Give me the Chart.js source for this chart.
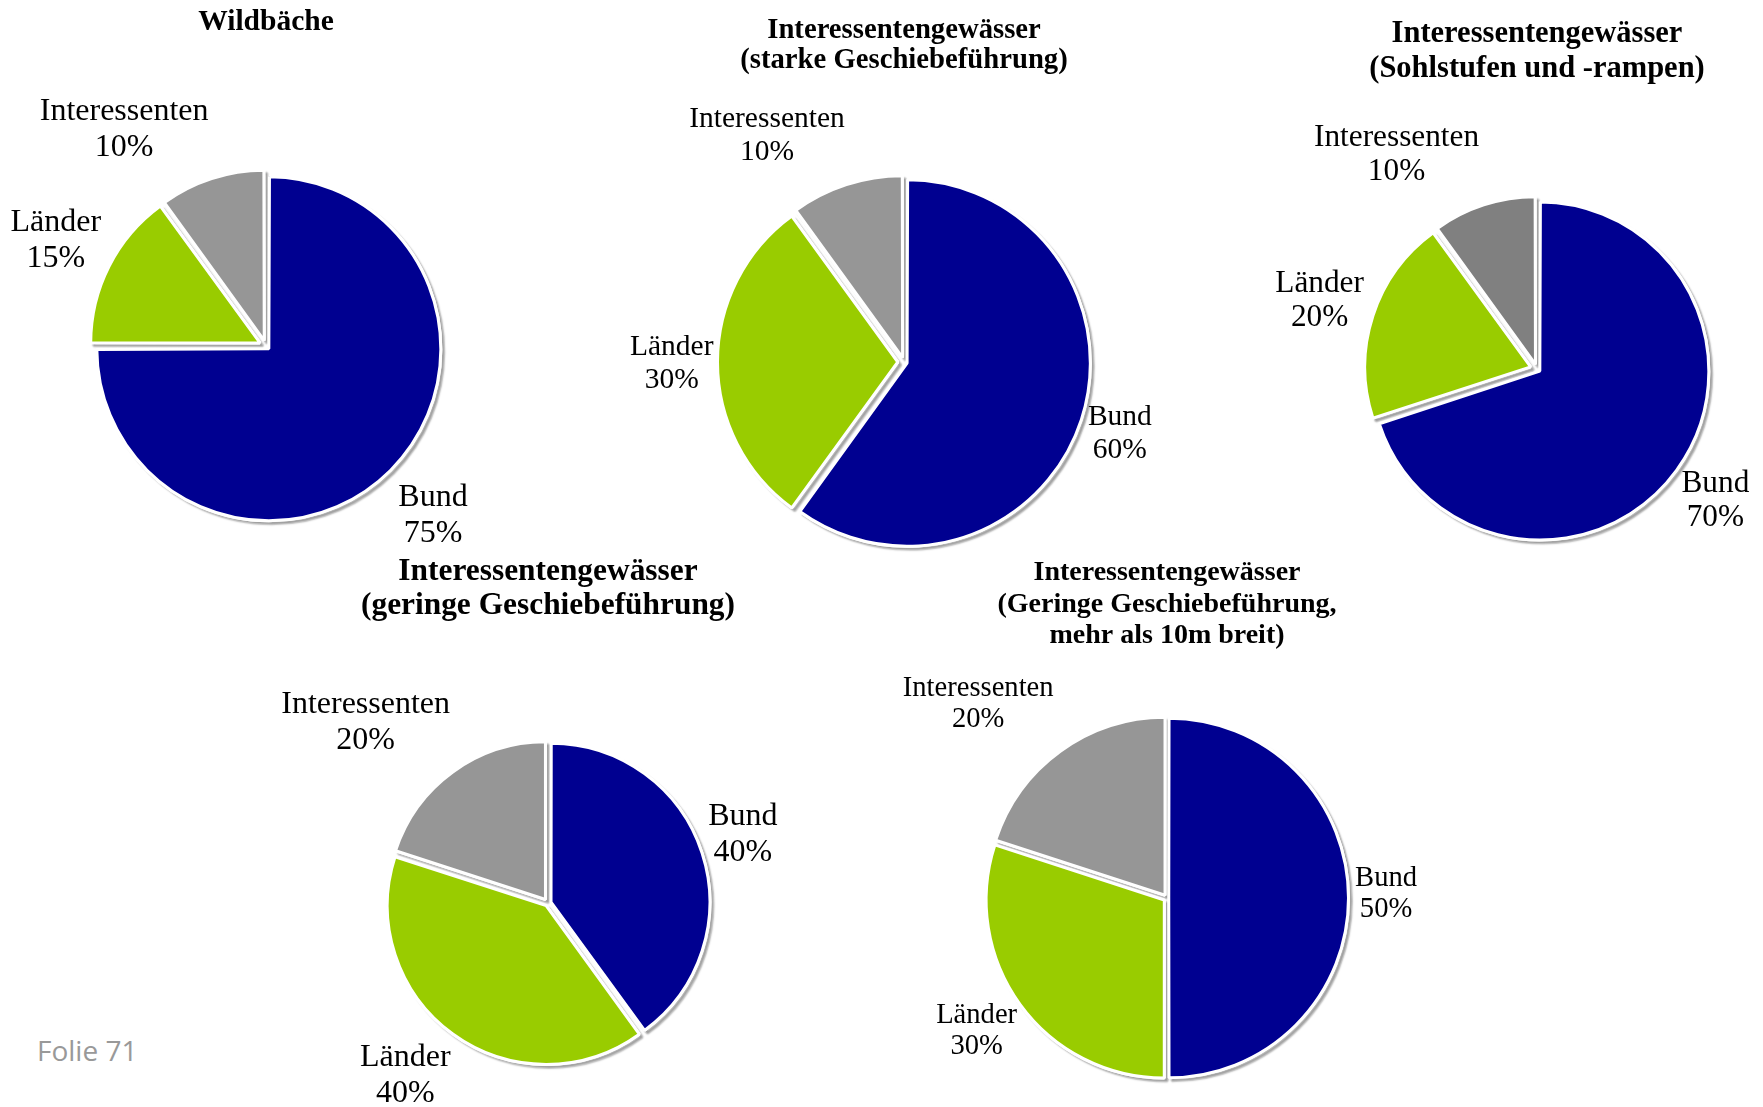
<!DOCTYPE html>
<html>
<head>
<meta charset="utf-8">
<script src="https://cdn.jsdelivr.net/npm/chart.js@4.4.0/dist/chart.umd.min.js"></script>
<style>
  html, body { margin: 0; padding: 0; background: #fff; }
  body { width: 1763px; height: 1107px; position: relative; overflow: hidden; }
  canvas { position: absolute; }
  #folie { position: absolute; left: 37px; top: 1036px; font-family: "Open Sans"; font-size: 28px; line-height: 28px; color: #999; }
</style>
</head>
<body>
<div id="folie">Folie 71</div>
<script>
// data
const categories = ["Bund", "Länder", "Interessenten"];

const wildbaeche = [75, 15, 10];
const starkeGeschiebe = [60, 30, 10];
const sohlstufen = [70, 20, 10];
const geringeGeschiebe = [40, 40, 20];
const geringeBreit = [50, 30, 20];

const titles = [
    ["Wildbäche"],
    ["Interessentengewässer", "(starke Geschiebeführung)"],
    ["Interessentengewässer", "(Sohlstufen und -rampen)"],
    ["Interessentengewässer", "(geringe Geschiebeführung)"],
    ["Interessentengewässer", "(Geringe Geschiebeführung,", "mehr als 10m breit)"]
];

const seriesList = [wildbaeche, starkeGeschiebe, sohlstufen, geringeGeschiebe, geringeBreit];

// layout per pie: center, radius, explode distance, font sizes, label spacing
const layouts = [
    { cx: 266, cy: 346, r: 166.5, explode: 8, titleSize: 29.5, titleTop: -316, titleLh: 32, labelSize: 32, labelLh: 36, pads: [25, 16, 24], shift: [0, 0, -15], gray: "#969696" },
    { cx: 904, cy: 362, r: 178.5, explode: 6.5, titleSize: 28.7, titleTop: -324.5, titleLh: 30.5, labelSize: 29.5, labelLh: 33, pads: [10, 12, 25], shift: [0, 0, -13], gray: "#969696" },
    { cx: 1537, cy: 369, r: 164, explode: 7, titleSize: 30.5, titleTop: -327, titleLh: 35, labelSize: 31.3, labelLh: 34, pads: [13, 14, 26], shift: [0, 0, -15], gray: "#808080" },
    { cx: 548, cy: 903, r: 156, explode: 4.5, titleSize: 31.4, titleTop: -323, titleLh: 34, labelSize: 32, labelLh: 36, pads: [9, 15, 22], shift: [-2, 4, -9], gray: "#969696" },
    { cx: 1167, cy: 898, r: 176.5, explode: 3.5, titleSize: 28, titleTop: -318, titleLh: 31.5, labelSize: 28.6, labelLh: 31, pads: [11, 7, 25], shift: [-1.5, 1.5, -8], gray: "#969696" }
];

const CW = 600, CH = 740, BORDER = 3;
const FONT = '"Liberation Serif", "Times New Roman", serif';

// drop shadow: draw the slices once with a shadow, the normal pass covers it inside the pie
const shadowPlugin = {
    id: 'pieShadow',
    beforeDatasetsDraw(chart) {
        const ctx = chart.ctx;
        ctx.save();
        ctx.shadowColor = 'rgba(0,0,0,0.24)';
        ctx.shadowOffsetX = 3;
        ctx.shadowOffsetY = 3;
        ctx.shadowBlur = 1.5;
        chart.getDatasetMeta(0).data.forEach(arc => arc.draw(ctx));
        ctx.restore();
    }
};

const textPlugin = {
    id: 'pieTexts',
    afterDraw(chart, args, opts) {
        const ctx = chart.ctx;
        const meta = chart.getDatasetMeta(0);
        const lay = opts.layout;
        const cx = meta.data[0].x, cy = meta.data[0].y;
        ctx.save();
        ctx.fillStyle = '#000';
        ctx.textAlign = 'center';
        ctx.textBaseline = 'alphabetic';

        // title
        ctx.font = 'bold ' + lay.titleSize + 'px ' + FONT;
        opts.title.forEach((line, i) => {
            ctx.fillText(line, cx, cy + lay.titleTop + i * lay.titleLh);
        });

        // slice labels outside the pie
        ctx.font = lay.labelSize + 'px ' + FONT;
        const data = chart.data.datasets[0].data;
        meta.data.forEach((arc, i) => {
            const lines = [chart.data.labels[i], data[i] + '%'];
            const w = Math.max(...lines.map(t => ctx.measureText(t).width));
            const h = lay.labelLh + 0.66 * lay.labelSize;
            const mid = (arc.startAngle + arc.endAngle) / 2 + lay.shift[i] * Math.PI / 180;
            const dx = Math.cos(mid), dy = Math.sin(mid);
            const dist = lay.r + lay.pads[i] + Math.abs(dx) * w / 2 + Math.abs(dy) * h / 2;
            const bx = cx + dx * dist, by = cy + dy * dist;
            const b1 = by - (lay.labelLh - 0.66 * lay.labelSize) / 2;
            ctx.fillText(lines[0], bx, b1);
            ctx.fillText(lines[1], bx, b1 + lay.labelLh);
        });
        ctx.restore();
    }
};

seriesList.forEach((values, k) => {
    const lay = layouts[k];
    const canvas = document.createElement('canvas');
    canvas.width = CW;
    canvas.height = CH;
    canvas.style.left = (lay.cx - CW / 2) + 'px';
    canvas.style.top = (lay.cy - CH / 2) + 'px';
    document.body.appendChild(canvas);

    new Chart(canvas.getContext('2d'), {
        type: 'pie',
        data: {
            labels: categories,
            datasets: [{
                data: values,
                backgroundColor: ['#000090', '#99CC00', lay.gray],
                borderColor: '#ffffff',
                borderWidth: BORDER,
                hoverOffset: 0,
                // every slice pulled out by the same distance along its bisector
                offset: (ctx) => {
                    if (typeof ctx.parsed !== 'number') return 0;
                    const total = ctx.dataset.data.reduce((a, b) => a + b, 0);
                    const circ = ctx.parsed / total * 2 * Math.PI;
                    const fix = 1 - Math.sin(Math.min(Math.PI, circ));
                    return 4 * lay.explode / (1 + fix);
                }
            }]
        },
        options: {
            responsive: false,
            animation: false,
            events: [],
            radius: lay.r + BORDER / 2,
            layout: { padding: 0 },
            plugins: {
                legend: { display: false },
                tooltip: { enabled: false },
                pieTexts: { layout: lay, title: titles[k] }
            }
        },
        plugins: [shadowPlugin, textPlugin]
    });
});
</script>
</body>
</html>
